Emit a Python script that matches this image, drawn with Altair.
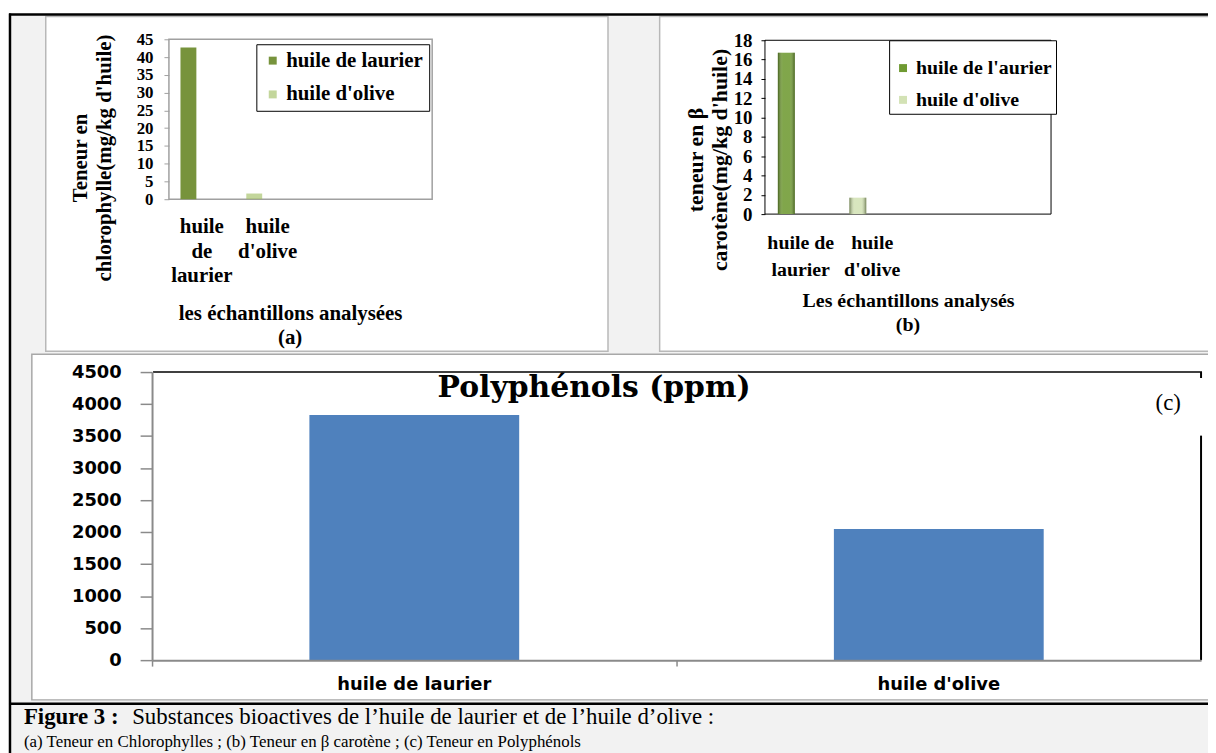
import json
import altair as alt
import pandas as pd

# ---------------- data ----------------
samples = ["huile de laurier", "huile d'olive"]
chlorophylle = [42.7, 1.6]          # (a) mg/kg d'huile
carotene = [16.7, 1.7]              # (b) mg/kg d'huile
polyphenols = [3830, 2050]          # (c) ppm
series_a = ["huile de laurier", "huile d'olive"]
series_b = ["huile de l'aurier", "huile d'olive"]
ticks_a = [0, 5, 10, 15, 20, 25, 30, 35, 40, 45]
ticks_b = [0, 2, 4, 6, 8, 10, 12, 14, 16, 18]
ticks_c = [0, 500, 1000, 1500, 2000, 2500, 3000, 3500, 4000, 4500]
xlabels_a = [["huile", "de", "laurier"], ["huile", "d'olive"]]
xlabels_b = [["huile de", "laurier"], ["huile", "d'olive"]]

df_a = pd.DataFrame({"echantillon": samples, "serie": series_a, "valeur": chlorophylle})
df_b = pd.DataFrame({"echantillon": samples, "serie": series_b, "valeur": carotene})
df_c = pd.DataFrame({"echantillon": samples, "valeur": polyphenols})
one = pd.DataFrame({"k": [0]})

# ---------------- layout ----------------
W, H = 1208, 745
SERIF = "Liberation Serif"
SANS = "DejaVu Sans"


def label_expr(cats, lines):
    return f"datum.label == {json.dumps(cats[0])} ? {json.dumps(lines[0])} : {json.dumps(lines[1])}"


def box(x, x2, y, y2, **mark):
    return alt.Chart(one).mark_rect(**mark).encode(
        x=alt.value(x), x2=alt.value(x2), y=alt.value(y), y2=alt.value(y2))


def hline(x, x2, y, **mark):
    return alt.Chart(one).mark_rule(**mark).encode(x=alt.value(x), x2=alt.value(x2), y=alt.value(y))


def vline(x, y, y2, **mark):
    return alt.Chart(one).mark_rule(**mark).encode(x=alt.value(x), y=alt.value(y), y2=alt.value(y2))


def txt(text, x, y, **mark):
    return alt.Chart(one).mark_text(text=text, **mark).encode(x=alt.value(x), y=alt.value(y))


# background frame
bg = box(2, W + 20, 4, H + 20, fill="#f2f2f2")
panel_a = box(38, 604, 6, 343, fill="white", stroke="#b8b8b8", strokeWidth=1.5)
panel_b = box(656, W + 20, 6, 343, fill="white", stroke="#b8b8b8", strokeWidth=1.5)
panel_c = box(24, W + 20, 346, 694, fill="white", stroke="#a8a8a8", strokeWidth=1.5)
frame_a = box(162, 427, 29, 190, fill="white", fillOpacity=0, stroke="#a0a0a0", strokeWidth=1.5)
frame_b = box(762, 1050, 30, 205, fill="white", fillOpacity=0, stroke="black", strokeWidth=1)

# ---------------- panel (a) ----------------
a_A0, a_A1, a_Y0, a_Y1 = 162, 294.5, 190, 29
bars_a = alt.Chart(df_a).mark_bar(width=16, xOffset=-13.5).encode(
    x=alt.X("echantillon:N", sort=samples,
            scale=alt.Scale(domain=samples, range=[a_A0, a_A1], paddingInner=0, paddingOuter=0),
            axis=alt.Axis(orient="bottom", offset=-(H - a_Y0), domain=False, ticks=False, tickSize=0,
                          labelAngle=0, labelExpr=label_expr(samples, xlabels_a), labelFont=SERIF,
                          labelFontWeight="bold", labelFontSize=21, labelColor="black",
                          labelPadding=17, labelLineHeight=24.5, labelOverlap=False,
                          title="les échantillons analysées", titleX=284, titleY=115,
                          titleFont=SERIF, titleFontSize=21, titleFontWeight="bold", titleColor="black",
                          titleBaseline="middle", titleAlign="center", titleAngle=0, zindex=1)),
    y=alt.Y("valeur:Q",
            scale=alt.Scale(domain=[0, 45], range=[a_Y0, a_Y1], nice=False),
            axis=alt.Axis(orient="left", offset=-a_A0, values=ticks_a, domain=False, grid=False,
                          tickSize=5, tickColor="#a0a0a0", labelPadding=11, labelFont=SERIF,
                          labelFontWeight="bold", labelFontSize=17, labelColor="black",
                          labelBaseline="middle", labelOverlap=False,
                          title=["Teneur en", "chlorophylle(mg/kg d'huile)"], titleX=-89, titleY=148,
                          titleAngle=-90, titleBaseline="middle", titleAlign="center",
                          titleLineHeight=24, titleFont=SERIF, titleFontSize=21,
                          titleFontWeight="bold", titleColor="black", zindex=1)),
    color=alt.Color("serie:N", scale=alt.Scale(domain=series_a, range=["#77933c", "#9bbb59"]),
                    legend=alt.Legend(orient="none", legendX=250, legendY=34, title=None,
                                      strokeColor="black", fillColor="white", padding=6,
                                      symbolType="square", symbolSize=64, symbolStrokeWidth=0,
                                      labelFont=SERIF, labelFontSize=21, labelFontWeight="bold",
                                      labelColor="black", labelOffset=3, rowPadding=12)),
    opacity=alt.Opacity("serie:N", scale=alt.Scale(domain=series_a, range=[1, 0.6]), legend=None),
)

# ---------------- panel (b) ----------------
b_A0, b_A1, b_Y0, b_Y1 = 762, 906, 205, 30
xb = alt.X("echantillon:N", sort=samples,
           scale=alt.Scale(domain=samples, range=[b_A0, b_A1], paddingInner=0, paddingOuter=0),
           axis=alt.Axis(orient="bottom", offset=-(H - b_Y0), domain=False, ticks=False, tickSize=0,
                         labelAngle=0, labelExpr=label_expr(samples, xlabels_b), labelFont=SERIF,
                         labelFontWeight="bold", labelFontSize=20, labelColor="black",
                         labelPadding=19, labelLineHeight=27, labelOverlap=False,
                         title="Les échantillons analysés", titleX=906, titleY=87,
                         titleFont=SERIF, titleFontSize=20, titleFontWeight="bold", titleColor="black",
                         titleBaseline="middle", titleAlign="center", titleAngle=0, zindex=1))
yb = alt.Y("valeur:Q",
           scale=alt.Scale(domain=[0, 18], range=[b_Y0, b_Y1], nice=False),
           axis=alt.Axis(orient="left", offset=-b_A0, values=ticks_b, domain=False, grid=False,
                         tickSize=4, tickColor="black", labelPadding=9, labelFont=SERIF,
                         labelFontWeight="bold", labelFontSize=19, labelColor="black",
                         labelBaseline="middle", labelOverlap=False,
                         title=["teneur en  β", "carotène(mg/kg d'huile)"], titleX=-70, titleY=150,
                         titleAngle=-90, titleBaseline="middle", titleAlign="center",
                         titleLineHeight=24, titleFont=SERIF, titleFontSize=22,
                         titleFontWeight="bold", titleColor="black", zindex=1))
bars_b_base = alt.Chart(df_b).mark_bar(width=17, xOffset=-14.5).encode(
    x=xb, y=yb,
    color=alt.Color("serie:N", scale=alt.Scale(domain=series_b, range=["#6f9a32", "#d3e2b5"]),
                    legend=alt.Legend(orient="none", legendX=887, legendY=30, title=" ",
                                      titleFontSize=11, titlePadding=3,
                                      strokeColor="black", fillColor="white", padding=4,
                                      symbolType="square", symbolSize=64, symbolStrokeWidth=0,
                                      labelFont=SERIF, labelFontSize=20, labelFontWeight="bold",
                                      labelColor="black", labelOffset=3, rowPadding=12)),
)
bevel = {"gradient": "linear", "x1": 0, "y1": 0, "x2": 1, "y2": 0,
         "stops": [{"offset": 0, "color": "rgba(35,50,10,0.55)"},
                   {"offset": 0.3, "color": "rgba(255,255,255,0.12)"},
                   {"offset": 0.7, "color": "rgba(255,255,255,0.12)"},
                   {"offset": 1, "color": "rgba(35,50,10,0.55)"}]}
bars_b_shade = alt.Chart(df_b).mark_bar(width=17, xOffset=-14.5, fill=bevel).encode(x=xb, y=yb)
bars_b = alt.layer(bars_b_base, bars_b_shade)

# ---------------- panel (c) ----------------
c_A0, c_A1, c_Y0, c_Y1 = 145, 1201, 654, 364
bars_c = alt.Chart(df_c).mark_bar(color="#4f81bd").encode(
    x=alt.X("echantillon:N", sort=samples,
            scale=alt.Scale(domain=samples, range=[c_A0, c_A1], paddingInner=0.6, paddingOuter=0.3),
            axis=alt.Axis(orient="bottom", offset=-(H - c_Y0), domainColor="#8a8a8a", domainWidth=2,
                          tickColor="#8a8a8a", tickSize=6, tickWidth=1.5, bandPosition=-0.75,
                          labelAngle=0, labelFont=SANS, labelFontWeight="bold", labelFontSize=18,
                          labelColor="black", labelPadding=10, labelOverlap=False, title=None, zindex=1)),
    y=alt.Y("valeur:Q",
            scale=alt.Scale(domain=[0, 4500], range=[c_Y0, c_Y1], nice=False),
            axis=alt.Axis(orient="left", offset=-c_A0, values=ticks_c, format="d", domainColor="#8a8a8a",
                          domainWidth=2, grid=False, tickSize=12, tickColor="#8a8a8a", tickWidth=1.5,
                          labelPadding=19, labelFont=SANS, labelFontWeight="bold", labelFontSize=18,
                          labelColor="black", labelBaseline="middle", labelOverlap=False,
                          title=None, zindex=1)),
)
frame_c = alt.layer(
    hline(146, 1202, 364, color="black", strokeWidth=1.5),
    vline(1201, 364, 370, color="black", strokeWidth=2),
    vline(1201, 428, 654, color="black", strokeWidth=2),
)

# ---------------- texts ----------------
texts = alt.layer(
    txt("(a)", 284, 330, font=SERIF, fontSize=21, fontWeight="bold", color="black", align="center", baseline="middle"),
    txt("(b)", 906, 317, font=SERIF, fontSize=20, fontWeight="bold", color="black", align="center", baseline="middle"),
    txt("Polyphénols (ppm)", 590, 380, font="DejaVu Serif", fontSize=30, fontWeight="bold", color="black",
        align="center", baseline="middle"),
    txt("(c)", 1168, 395, font=SERIF, fontSize=23, color="black", align="center", baseline="middle"),
    txt("Figure 3 :", 16, 711, font=SERIF, fontSize=23, fontWeight="bold", color="black", align="left", baseline="middle"),
    txt("Substances bioactives de l’huile de laurier et de l’huile d’olive :", 125, 711, font=SERIF,
        fontSize=23, color="black", align="left", baseline="middle"),
    txt("(a) Teneur en Chlorophylles ; (b) Teneur en β carotène ; (c) Teneur en Polyphénols", 16, 736,
        font=SERIF, fontSize=17, color="black", align="left", baseline="middle"),
)

borders = alt.layer(
    hline(1, W + 20, 4, color="black", strokeWidth=2.5),
    vline(2, 3, H + 20, color="black", strokeWidth=2.5),
    hline(1, W + 20, 698, color="black", strokeWidth=2.5),
)

chart = alt.layer(
    bg, panel_a, panel_b, panel_c, frame_a, frame_b,
    bars_a, bars_b, bars_c, frame_c, texts, borders,
).resolve_scale(
    x="independent", y="independent", color="independent", opacity="independent"
).resolve_axis(
    x="independent", y="independent"
).resolve_legend(
    color="independent"
).properties(
    width=W, height=H, padding=0, background="white",
    autosize=alt.AutoSizeParams(type="none"),
).configure_view(strokeWidth=0)

chart.save("out.html", embed_options={"renderer": "svg", "actions": False})
